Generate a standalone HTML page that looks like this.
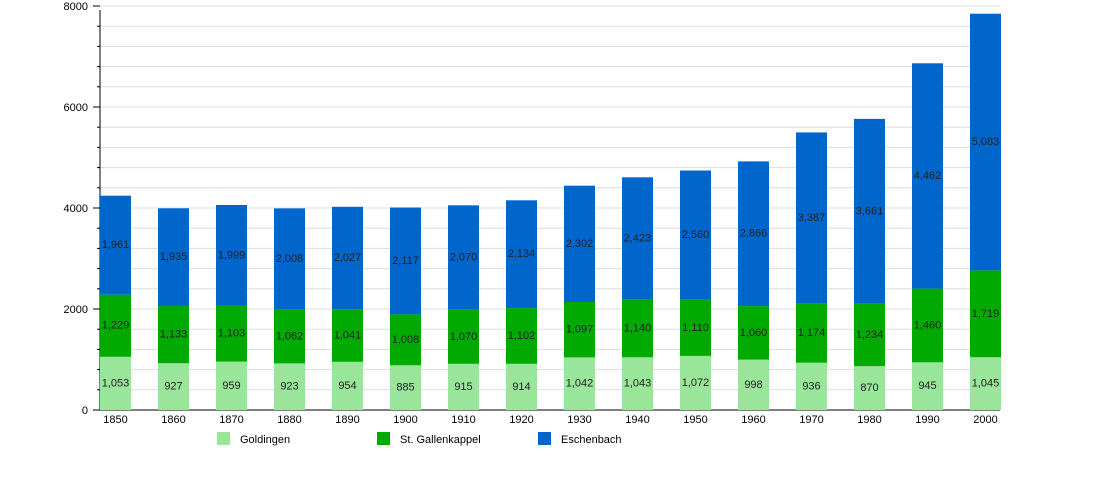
<!DOCTYPE html>
<html><head><meta charset="utf-8"><style>
html,body{margin:0;padding:0;background:#fff;}
svg{display:block;font-family:"Liberation Sans",sans-serif;}
.l{font-size:11px;fill:#222;text-anchor:middle;dominant-baseline:central;}
.t{font-size:11px;fill:#000;}
</style></head><body>
<svg width="1100" height="500" viewBox="0 0 1100 500">
<g stroke="#ddd" stroke-width="1">
<line x1="100" x2="1000" y1="389.8" y2="389.8"/><line x1="100" x2="1000" y1="369.6" y2="369.6"/><line x1="100" x2="1000" y1="349.4" y2="349.4"/><line x1="100" x2="1000" y1="329.2" y2="329.2"/><line x1="100" x2="1000" y1="309" y2="309"/><line x1="100" x2="1000" y1="288.8" y2="288.8"/><line x1="100" x2="1000" y1="268.6" y2="268.6"/><line x1="100" x2="1000" y1="248.4" y2="248.4"/><line x1="100" x2="1000" y1="228.2" y2="228.2"/><line x1="100" x2="1000" y1="208" y2="208"/><line x1="100" x2="1000" y1="187.8" y2="187.8"/><line x1="100" x2="1000" y1="167.6" y2="167.6"/><line x1="100" x2="1000" y1="147.4" y2="147.4"/><line x1="100" x2="1000" y1="127.2" y2="127.2"/><line x1="100" x2="1000" y1="107" y2="107"/><line x1="100" x2="1000" y1="86.8" y2="86.8"/><line x1="100" x2="1000" y1="66.6" y2="66.6"/><line x1="100" x2="1000" y1="46.4" y2="46.4"/><line x1="100" x2="1000" y1="26.2" y2="26.2"/><line x1="100" x2="1000" y1="6" y2="6"/>
</g>
<g stroke="#000" stroke-width="1">
<line x1="100" x2="100" y1="10" y2="410"/><line x1="93" x2="1000" y1="410" y2="410"/>
<line x1="93" x2="100" y1="6" y2="6"/><line x1="93" x2="100" y1="107" y2="107"/><line x1="93" x2="100" y1="208" y2="208"/><line x1="93" x2="100" y1="309" y2="309"/>
<line x1="97" x2="100" y1="389.8" y2="389.8"/><line x1="97" x2="100" y1="369.6" y2="369.6"/><line x1="97" x2="100" y1="349.4" y2="349.4"/><line x1="97" x2="100" y1="329.2" y2="329.2"/><line x1="97" x2="100" y1="288.8" y2="288.8"/><line x1="97" x2="100" y1="268.6" y2="268.6"/><line x1="97" x2="100" y1="248.4" y2="248.4"/><line x1="97" x2="100" y1="228.2" y2="228.2"/><line x1="97" x2="100" y1="187.8" y2="187.8"/><line x1="97" x2="100" y1="167.6" y2="167.6"/><line x1="97" x2="100" y1="147.4" y2="147.4"/><line x1="97" x2="100" y1="127.2" y2="127.2"/><line x1="97" x2="100" y1="86.8" y2="86.8"/><line x1="97" x2="100" y1="66.6" y2="66.6"/><line x1="97" x2="100" y1="46.4" y2="46.4"/><line x1="97" x2="100" y1="26.2" y2="26.2"/>
</g>
<g class="t" text-anchor="end">
<text x="88" y="10">8000</text><text x="88" y="111">6000</text><text x="88" y="212">4000</text><text x="88" y="313">2000</text><text x="88" y="414">0</text>
</g>
<g fill="#99e599">
<rect x="100" y="356.8" width="31" height="53.2"/><rect x="158" y="363.2" width="31" height="46.8"/><rect x="216" y="361.6" width="31" height="48.4"/><rect x="274" y="363.4" width="31" height="46.6"/><rect x="332" y="361.8" width="31" height="48.2"/><rect x="390" y="365.3" width="31" height="44.7"/><rect x="448" y="363.8" width="31" height="46.2"/><rect x="506" y="363.8" width="31" height="46.2"/><rect x="564" y="357.4" width="31" height="52.6"/><rect x="622" y="357.3" width="31" height="52.7"/><rect x="680" y="355.9" width="31" height="54.1"/><rect x="738" y="359.6" width="31" height="50.4"/><rect x="796" y="362.7" width="31" height="47.3"/><rect x="854" y="366.1" width="31" height="43.9"/><rect x="912" y="362.3" width="31" height="47.7"/><rect x="970" y="357.2" width="31" height="52.8"/>
</g>
<g fill="#00aa00">
<rect x="100" y="294.7" width="31" height="62.1"/><rect x="158" y="306" width="31" height="57.2"/><rect x="216" y="305.9" width="31" height="55.7"/><rect x="274" y="309.8" width="31" height="53.6"/><rect x="332" y="309.2" width="31" height="52.6"/><rect x="390" y="314.4" width="31" height="50.9"/><rect x="448" y="309.8" width="31" height="54"/><rect x="506" y="308.1" width="31" height="55.7"/><rect x="564" y="302" width="31" height="55.4"/><rect x="622" y="299.7" width="31" height="57.6"/><rect x="680" y="299.8" width="31" height="56.1"/><rect x="738" y="306.1" width="31" height="53.5"/><rect x="796" y="303.4" width="31" height="59.3"/><rect x="854" y="303.8" width="31" height="62.3"/><rect x="912" y="288.6" width="31" height="73.7"/><rect x="970" y="270.4" width="31" height="86.8"/>
</g>
<g fill="#0066cc">
<rect x="100" y="195.7" width="31" height="99"/><rect x="158" y="208.3" width="31" height="97.7"/><rect x="216" y="205" width="31" height="100.9"/><rect x="274" y="208.4" width="31" height="101.4"/><rect x="332" y="206.8" width="31" height="102.4"/><rect x="390" y="207.5" width="31" height="106.9"/><rect x="448" y="205.3" width="31" height="104.5"/><rect x="506" y="200.3" width="31" height="107.8"/><rect x="564" y="185.7" width="31" height="116.3"/><rect x="622" y="177.3" width="31" height="122.4"/><rect x="680" y="170.5" width="31" height="129.3"/><rect x="738" y="161.4" width="31" height="144.7"/><rect x="796" y="132.4" width="31" height="171"/><rect x="854" y="118.9" width="31" height="184.9"/><rect x="912" y="63.3" width="31" height="225.3"/><rect x="970" y="13.7" width="31" height="256.7"/>
</g>
<g class="l">
<text x="115.5" y="383.4">1,053</text><text x="115.5" y="325.7">1,229</text><text x="115.5" y="245.2">1,961</text>
<text x="173.5" y="386.6">927</text><text x="173.5" y="334.6">1,133</text><text x="173.5" y="257.1">1,935</text>
<text x="231.5" y="385.8">959</text><text x="231.5" y="333.7">1,103</text><text x="231.5" y="255.4">1,999</text>
<text x="289.5" y="386.7">923</text><text x="289.5" y="336.6">1,062</text><text x="289.5" y="259.1">2,008</text>
<text x="347.5" y="385.9">954</text><text x="347.5" y="335.5">1,041</text><text x="347.5" y="258">2,027</text>
<text x="405.5" y="387.6">885</text><text x="405.5" y="339.8">1,008</text><text x="405.5" y="260.9">2,117</text>
<text x="463.5" y="386.9">915</text><text x="463.5" y="336.8">1,070</text><text x="463.5" y="257.5">2,070</text>
<text x="521.5" y="386.9">914</text><text x="521.5" y="336">1,102</text><text x="521.5" y="254.2">2,134</text>
<text x="579.5" y="383.7">1,042</text><text x="579.5" y="329.7">1,097</text><text x="579.5" y="243.8">2,302</text>
<text x="637.5" y="383.6">1,043</text><text x="637.5" y="328.5">1,140</text><text x="637.5" y="238.5">2,423</text>
<text x="695.5" y="382.9">1,072</text><text x="695.5" y="327.9">1,110</text><text x="695.5" y="235.2">2,560</text>
<text x="753.5" y="384.8">998</text><text x="753.5" y="332.8">1,060</text><text x="753.5" y="233.7">2,866</text>
<text x="811.5" y="386.3">936</text><text x="811.5" y="333">1,174</text><text x="811.5" y="217.9">3,387</text>
<text x="869.5" y="388">870</text><text x="869.5" y="334.9">1,234</text><text x="869.5" y="211.3">3,661</text>
<text x="927.5" y="386.1">945</text><text x="927.5" y="325.4">1,460</text><text x="927.5" y="175.9">4,462</text>
<text x="985.5" y="383.6">1,045</text><text x="985.5" y="313.8">1,719</text><text x="985.5" y="142">5,083</text>
</g>
<g class="t" text-anchor="middle">
<text x="115.5" y="423">1850</text><text x="173.5" y="423">1860</text><text x="231.5" y="423">1870</text><text x="289.5" y="423">1880</text><text x="347.5" y="423">1890</text><text x="405.5" y="423">1900</text><text x="463.5" y="423">1910</text><text x="521.5" y="423">1920</text><text x="579.5" y="423">1930</text><text x="637.5" y="423">1940</text><text x="695.5" y="423">1950</text><text x="753.5" y="423">1960</text><text x="811.5" y="423">1970</text><text x="869.5" y="423">1980</text><text x="927.5" y="423">1990</text><text x="985.5" y="423">2000</text>
</g>
<rect x="217" y="432" width="13" height="13" fill="#99e599"/><text class="t" x="240" y="443">Goldingen</text>
<rect x="377" y="432" width="13" height="13" fill="#00aa00"/><text class="t" x="400" y="443">St. Gallenkappel</text>
<rect x="538" y="432" width="13" height="13" fill="#0066cc"/><text class="t" x="561" y="443">Eschenbach</text>
</svg>
</body></html>
